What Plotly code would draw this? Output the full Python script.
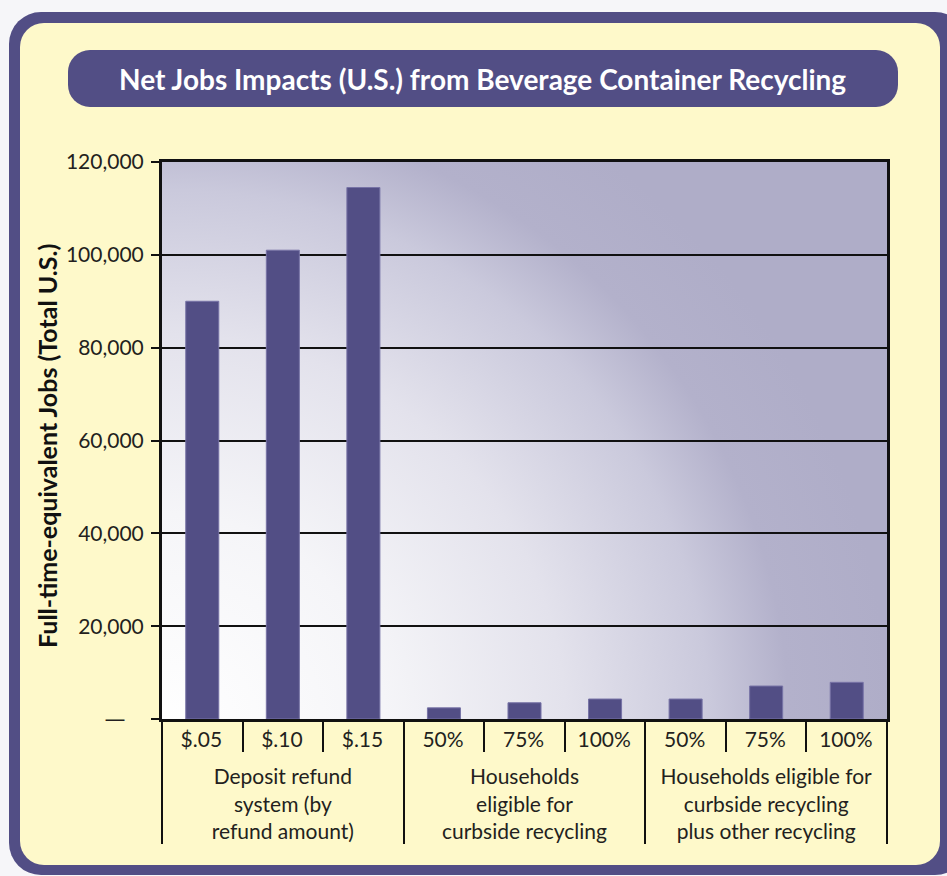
import base64
import plotly.graph_objects as go

# ---- data -------------------------------------------------------------
groups = (
    ["Deposit refund<br>system (by<br>refund amount)"] * 3
    + ["Households<br>eligible for<br>curbside recycling"] * 3
    + ["Households eligible for<br>curbside recycling<br>plus other recycling"] * 3
)
levels = ["$.05", "$.10", "$.15", "50%", "75%", "100%", "50%", "75%", "100%"]
jobs = [90000, 101000, 114500, 2400, 3500, 4300, 4300, 7100, 7900]

y_ticks = [0, 20000, 40000, 60000, 80000, 100000, 120000]
y_tick_text = ["<span style='font-family:DejaVu Sans'>\u2014</span>\u2003\u2009",
               "20,000", "40,000", "60,000", "80,000", "100,000", "120,000"]

title_text = "Net Jobs Impacts (U.S.) from Beverage Container Recycling"
y_title = "Full-time-equivalent Jobs (Total U.S.)"

# ---- page geometry (pixels) -------------------------------------------
W, H = 947, 876
PX0, PX1, PY0, PY1 = 162, 887, 162, 719

PURPLE = "#524e85"
CREAM = "#fef9ca"
INK = "#231f20"
FONT = "Lato"

# a taller hair space on each first-level label opens a bit more room
# above the group labels
strut = "<span style='font-size:29px'>\u200a</span>"
level_labels = [lv + strut for lv in levels]

# Background artwork: rounded frame, title banner and the plot-area gradient
svg = f"""<svg xmlns='http://www.w3.org/2000/svg' width='{W}' height='{H}' viewBox='0 0 {W} {H}'>
<defs>
<radialGradient id='g' gradientUnits='userSpaceOnUse' cx='170' cy='730' r='720'>
<stop offset='0' stop-color='#ffffff'/>
<stop offset='0.3' stop-color='#f5f5f8'/>
<stop offset='0.55' stop-color='#e3e2ec'/>
<stop offset='0.75' stop-color='#cac9dc'/>
<stop offset='0.86' stop-color='#b3b1cb'/>
<stop offset='1' stop-color='#afadc8'/>
</radialGradient>
</defs>
<rect x='0' y='0' width='{W}' height='{H}' fill='#f6f6f9'/>
<rect x='9' y='12' width='{W - 9 + 20}' height='863' rx='32' fill='{PURPLE}'/>
<rect x='20' y='23' width='920' height='842' rx='24' fill='{CREAM}'/>
<rect x='68' y='50' width='830' height='57' rx='22' fill='{PURPLE}'/>
<rect x='{PX0}' y='{PY0}' width='{PX1 - PX0}' height='{PY1 - PY0}' fill='url(#g)'/>
</svg>"""
svg_uri = "data:image/svg+xml;base64," + base64.b64encode(svg.encode()).decode()

fig = go.Figure(
    go.Bar(
        x=[groups, level_labels],
        y=jobs,
        marker=dict(color=PURPLE, line=dict(color="#7773a6", width=1)),
        hovertemplate="%{y:,}<extra></extra>",
    )
)

fig.update_layout(
    template="none",
    width=W,
    height=H,
    margin=dict(l=0, r=0, t=0, b=0),
    paper_bgcolor="#f6f6f9",
    plot_bgcolor="rgba(0,0,0,0)",
    showlegend=False,
    bargap=0.59,
    font=dict(family=FONT, color=INK, size=20),
    images=[
        dict(
            source=svg_uri, xref="paper", yref="paper", x=0, y=1,
            sizex=1, sizey=1, xanchor="left", yanchor="top",
            sizing="stretch", layer="below",
        )
    ],
    xaxis=dict(
        type="multicategory",
        domain=[PX0 / W, PX1 / W],
        automargin=False,
        showgrid=False,
        showline=True, linecolor="#111", linewidth=3, mirror=True,
        ticks="outside", tickson="boundaries", ticklen=30, tickwidth=2, tickcolor="#111",
        showdividers=True, dividercolor="#111", dividerwidth=2,
        tickfont=dict(family=FONT, size=21, color=INK),
    ),
    yaxis=dict(
        domain=[1 - PY1 / H, 1 - PY0 / H],
        automargin=False,
        range=[0, 120000],
        tickvals=y_ticks,
        ticktext=y_tick_text,
        showgrid=True, gridcolor="#111", gridwidth=2,
        zeroline=False,
        showline=True, linecolor="#111", linewidth=3, mirror=True,
        ticks="outside", ticklen=8, tickwidth=2, tickcolor="#111",
        ticklabelstandoff=3,
        tickfont=dict(family=FONT, size=21, color=INK),
    ),
    annotations=[
        dict(
            text=f"<b>{title_text}</b>", xref="paper", yref="paper",
            x=482 / W, y=1 - 79 / H, xanchor="center", yanchor="middle",
            showarrow=False, font=dict(family=FONT, size=28, color="white"),
        ),
        dict(
            text=f"<b>{y_title}</b>", xref="paper", yref="paper",
            x=47 / W, y=1 - 446 / H, xanchor="center", yanchor="middle",
            textangle=-90, showarrow=False,
            font=dict(family=FONT, size=25, color="#111"),
        ),
    ],
)

fig.write_html("out.html")
